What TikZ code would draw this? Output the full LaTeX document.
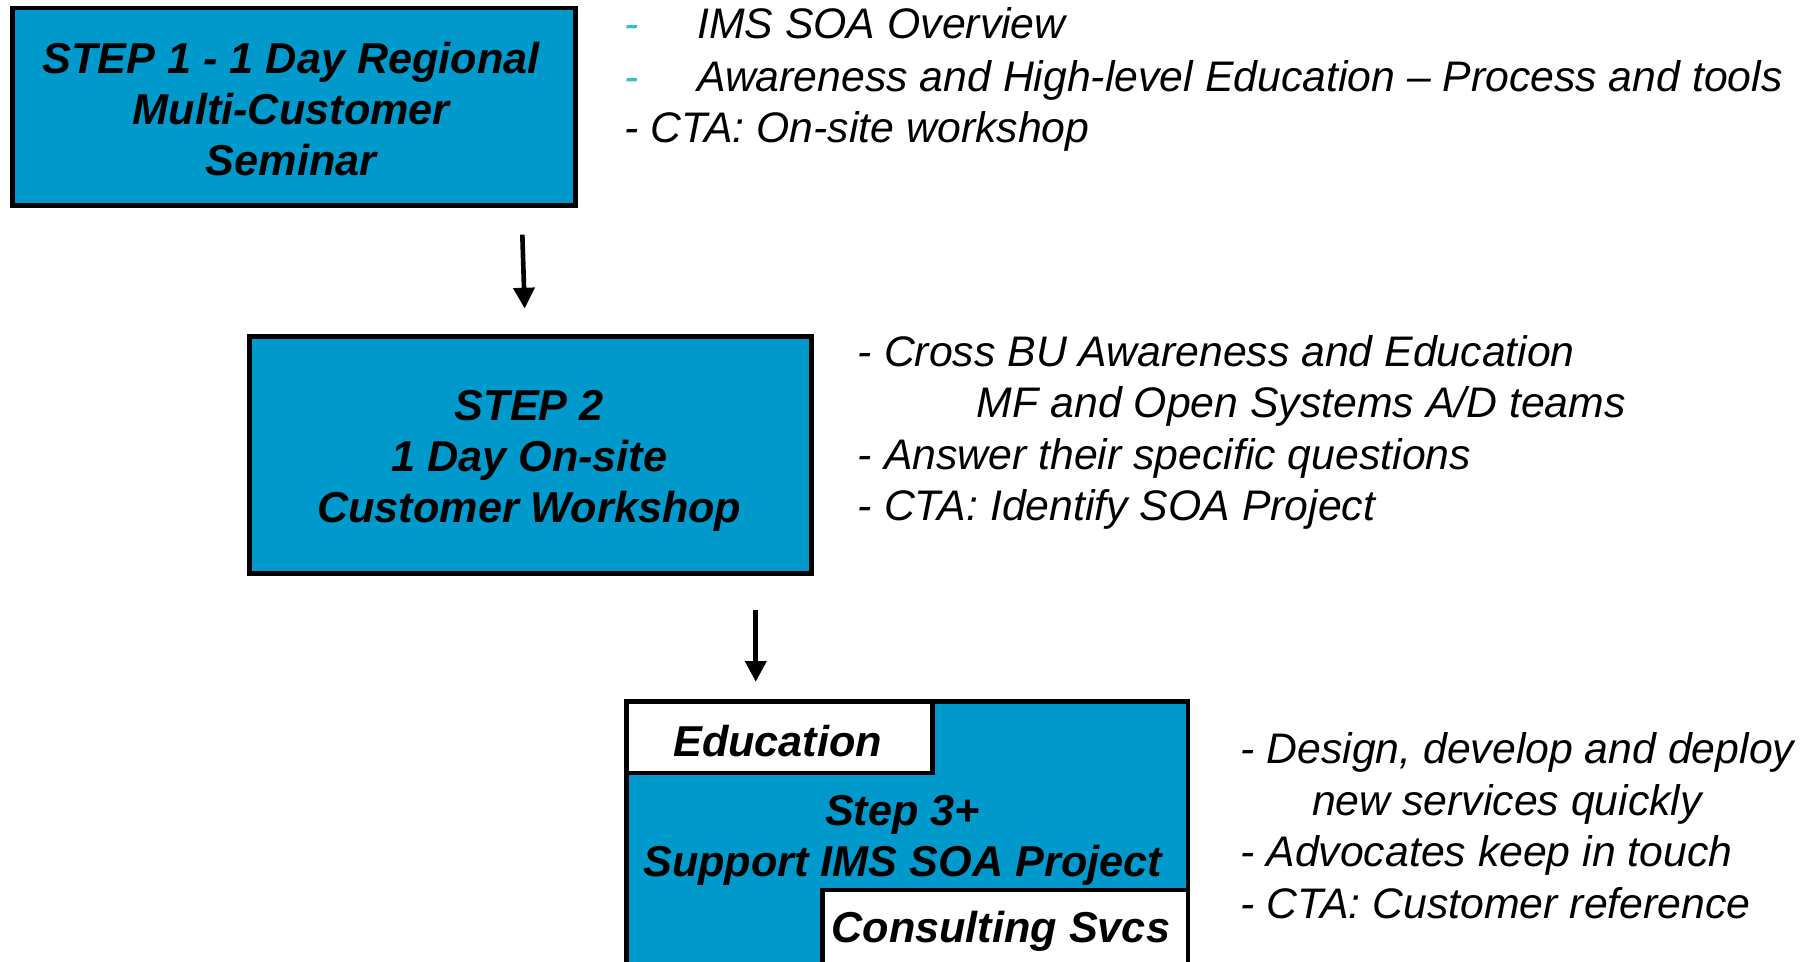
\documentclass[tikz,border=0pt]{standalone}
\usepackage{fontspec}
\setmainfont{Liberation Sans}
\usetikzlibrary{arrows.meta}
\definecolor{boxblue}{RGB}{0,153,204}
\definecolor{dashteal}{RGB}{60,190,190}
\begin{document}
\begin{tikzpicture}[x=0.5pt,y=-0.5pt,
  boxfont/.style={font=\bfseries\itshape\fontsize{18.7}{22}\selectfont},
  stepbox/.style={draw=black, line width=2pt, fill=boxblue, inner sep=0pt, align=center, boxfont},
  tagbox/.style={draw=black, line width=2pt, fill=white, inner sep=0pt, boxfont},
  boxtext/.style={inner sep=0pt, align=center, boxfont},
  note/.style={anchor=base west, inner sep=0pt, font=\itshape\fontsize{18.5}{22}\selectfont},
  flow/.style={line width=2pt, -{Triangle[width=9pt,length=9pt]}}]
\clip (0,0) rectangle (1568,832);
% Step 1
\node[stepbox, minimum width=243.5pt, minimum height=85.5pt] (box1) at (254.5,92.5) {};
\node[boxtext] (step1) at (252,94.5) {STEP 1 - 1 Day Regional\\Multi-Customer\\Seminar};
% Step 2
\node[stepbox, minimum width=243pt, minimum height=102.5pt] (box2) at (459,393.5) {};
\node[boxtext] (step2) at (458,399) {STEP 2\\1 Day On-site\\Customer Workshop};
% Step 3
\node[stepbox, minimum width=243pt, minimum height=146.5pt] (box3) at (785,753.5) {};
\node[tagbox, minimum width=132.5pt, minimum height=31pt] (edu) at (674.5,638) {};
\node[boxtext] (edutext) at (673,641) {Education};
\node[tagbox, minimum width=158pt, minimum height=65pt] (cons) at (870,835) {};
\node[boxtext] (step3) at (781,727) {Step 3+\\Support IMS SOA Project};
\node[boxtext] (constext) at (866,806) {Consulting Svcs};
% arrows
\coordinate (a1s) at (452,203);
\coordinate (a1e) at (454,267);
\draw[flow] (a1s) -- (a1e);
\coordinate (a2s) at (654,528);
\coordinate (a2e) at (654,590);
\draw[flow] (a2s) -- (a2e);
% notes step 1
\node[note] (n1d1) at (540,33) {\textcolor{dashteal}{-}};
\node[note] (n1a) at (603,33) {IMS SOA Overview};
\node[note] (n1d2) at (540,79) {\textcolor{dashteal}{-}};
\node[note] (n1b) at (603,79) {Awareness and High-level Education – Process and tools};
\node[note] (n1c) at (540,123) {- CTA: On-site workshop};
% notes step 2
\node[note] (n2a) at (742,317) {- Cross BU Awareness and Education};
\node[note] (n2b) at (845,361) {MF and Open Systems A/D teams};
\node[note] (n2c) at (742,406) {- Answer their specific questions};
\node[note] (n2d) at (742,450) {- CTA: Identify SOA Project};
% notes step 3
\node[note] (n3a) at (1073,661) {- Design, develop and deploy};
\node[note] (n3b) at (1135,706) {new services quickly};
\node[note] (n3c) at (1073,750) {- Advocates keep in touch};
\node[note] (n3d) at (1073,795) {- CTA: Customer reference};
\end{tikzpicture}
\end{document}
